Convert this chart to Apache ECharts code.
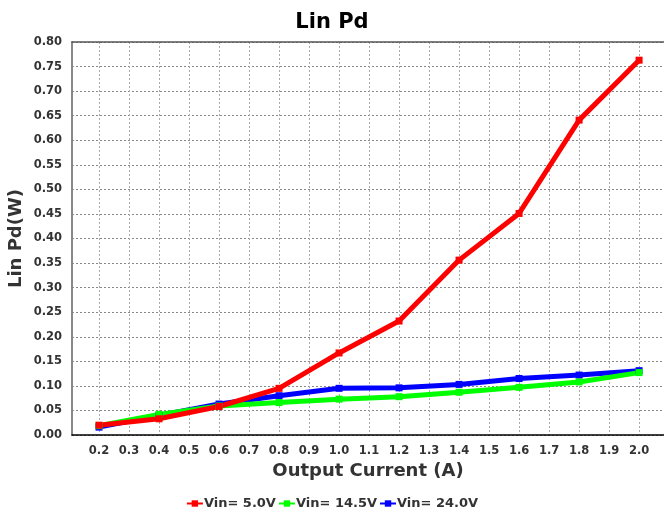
<!DOCTYPE html>
<html><head><meta charset="utf-8">
<script src="https://cdn.jsdelivr.net/npm/echarts@6/dist/echarts.min.js"></script>
<style>html,body{margin:0;padding:0;background:#fff}#c{width:664px;height:515px}</style>
</head><body><div id="c"></div>
<script>
const current = [0.2, 0.4, 0.6, 0.8, 1.0, 1.2, 1.4, 1.6, 1.8, 2.0];
const vin5 = [0.020, 0.033, 0.058, 0.095, 0.167, 0.232, 0.356, 0.451, 0.641, 0.763];
const vin145 = [0.019, 0.042, 0.059, 0.066, 0.073, 0.078, 0.087, 0.097, 0.108, 0.127];
const vin24 = [0.016, 0.040, 0.063, 0.080, 0.095, 0.096, 0.103, 0.115, 0.122, 0.131];
const xTicks = [0.2,0.3,0.4,0.5,0.6,0.7,0.8,0.9,1.0,1.1,1.2,1.3,1.4,1.5,1.6,1.7,1.8,1.9,2.0];
const names = ['Vin= 5.0V', 'Vin= 14.5V', 'Vin= 24.0V'];

const pair = arr => current.map((x, i) => [x, arr[i]]);
const font = 'DejaVu Sans, Verdana, sans-serif';
const mk = (name, data, color) => ({
  name, type: 'line', data: pair(data), symbol: 'rect', symbolSize: 7,
  lineStyle: { width: 5, color }, itemStyle: { color }, animation: false
});

const chart = echarts.init(document.getElementById('c'));
chart.setOption({
  animation: false,
  title: { text: 'Lin Pd', left: 'center', top: 7,
    textStyle: { fontFamily: font, fontSize: 21, fontWeight: 'bold', color: '#000' } },
  grid: { left: 72, right: 0, top: 42, bottom: 80, outerBoundsMode: 'none', containLabel: false },
  legend: { bottom: 0, left: 'center', itemGap: 2, itemWidth: 16, itemHeight: 8,
    data: names,
    textStyle: { fontFamily: font, fontSize: 13, fontWeight: 'bold', color: '#333', padding: [0,0,0,-4] } },
  xAxis: [{
    type: 'value', min: 0.11, max: 2.083,
    name: 'Output Current (A)', nameLocation: 'middle', nameGap: 27,
    nameTextStyle: { fontFamily: font, fontSize: 18, fontWeight: 'bold', color: '#333' },
    axisLine: { show: true, lineStyle: { color: '#000', width: 1.5 } },
    axisTick: { show: false, customValues: xTicks },
    axisLabel: { customValues: xTicks, margin: 10, fontFamily: font, fontSize: 11.5, fontWeight: 'bold', color: '#333',
      formatter: v => v.toFixed(1) },
    splitLine: { show: true, lineStyle: { color: '#aaa', type: [2, 2], width: 1 } }
  }, {
    type: 'value', position: 'top', min: 0.11, max: 2.083,
    axisLine: { show: true, lineStyle: { color: '#555', width: 1.5 } },
    axisTick: { show: false }, axisLabel: { show: false }, splitLine: { show: false }
  }],
  yAxis: {
    type: 'value', min: 0, max: 0.8, interval: 0.05,
    name: 'Lin Pd(W)', nameLocation: 'middle', nameGap: 47, nameMoveOverlap: false,
    nameTextStyle: { fontFamily: font, fontSize: 18, fontWeight: 'bold', color: '#333' },
    axisLine: { show: true, lineStyle: { color: '#888', width: 2 } },
    axisTick: { show: false },
    axisLabel: { margin: 10, fontFamily: font, fontSize: 11.5, fontWeight: 'bold', color: '#333',
      formatter: v => v.toFixed(2) },
    splitLine: { show: true, lineStyle: { color: '#888', type: [2, 2], width: 1 } }
  },
  series: [
    mk(names[2], vin24, '#0000ff'),
    mk(names[1], vin145, '#00ff00'),
    mk(names[0], vin5, '#ff0000')
  ]
});
</script></body></html>
